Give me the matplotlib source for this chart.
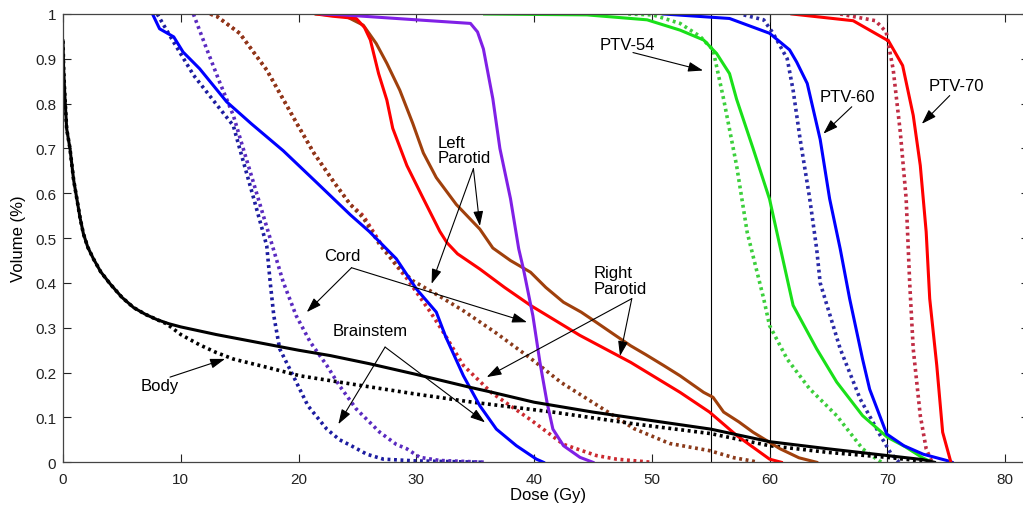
import matplotlib
matplotlib.use("Agg")
import matplotlib.pyplot as plt

plt.rcParams['font.family'] = ['Liberation Sans', 'DejaVu Sans']

# ---------------- data (Dose Gy, Volume fraction) ----------------
body_x = [0, 0.05, 0.15, 0.31, 0.59, 0.9, 1.16, 1.45, 1.73, 2.1, 2.58, 3.2, 4.0, 5.0, 6.0, 7.0, 8.0, 9.0, 10, 13, 17, 20, 22.7, 26, 30, 34.6, 36.3, 40, 45, 50, 55, 60, 65, 70, 73, 74]
body_y = [0.94, 0.88, 0.82, 0.744, 0.70, 0.63, 0.59, 0.545, 0.51, 0.48, 0.454, 0.425, 0.398, 0.368, 0.345, 0.33, 0.318, 0.309, 0.302, 0.285, 0.265, 0.25, 0.238, 0.22, 0.196, 0.167, 0.157, 0.134, 0.112, 0.093, 0.074, 0.046, 0.03, 0.015, 0.006, 0.0]
body2_x = [0, 0.05, 0.15, 0.31, 0.59, 0.9, 1.16, 1.45, 1.73, 2.1, 2.58, 3.2, 4.0, 5.0, 6.0, 7.0, 8.0, 8.8, 10.0, 11.6, 13.0, 14.5, 17.3, 20.1, 24.4, 30, 34.8, 41.6, 48.7, 55, 60, 65, 70, 72.5, 73.5]
body2_y = [0.94, 0.88, 0.82, 0.744, 0.70, 0.63, 0.59, 0.545, 0.51, 0.48, 0.454, 0.425, 0.398, 0.368, 0.345, 0.33, 0.318, 0.309, 0.285, 0.262, 0.245, 0.23, 0.212, 0.193, 0.175, 0.152, 0.134, 0.112, 0.085, 0.064, 0.037, 0.022, 0.011, 0.004, 0.0]

cord_x = [7.6, 8.2, 9.4, 10.2, 11.6, 13.9, 16, 18.7, 21.5, 24.4, 26, 28.3, 30, 31.7, 32.5, 34, 35.4, 36.8, 38.5, 40.2, 40.8]
cord_y = [1.0, 0.967, 0.949, 0.915, 0.878, 0.804, 0.755, 0.695, 0.625, 0.552, 0.515, 0.454, 0.387, 0.335, 0.28, 0.193, 0.126, 0.074, 0.037, 0.007, 0.0]
cord2_x = [8.0, 9.4, 11.1, 13.1, 14.46, 15.0, 16.2, 17.3, 17.6, 17.9, 18.4, 19.6, 20.8, 22.4, 23.5, 24.4, 25.8, 27.2, 30, 35.7]
cord2_y = [1.0, 0.937, 0.863, 0.796, 0.751, 0.70, 0.588, 0.483, 0.40, 0.327, 0.253, 0.19, 0.126, 0.074, 0.05, 0.038, 0.018, 0.007, 0.003, 0.0]

bstem_x = [22, 23.8, 30, 34.6, 35.2, 35.7, 36.5, 37.1, 38.0, 38.7, 39.1, 39.9, 40.5, 41.1, 41.6, 42.5, 43.9, 45.0]
bstem_y = [1.0, 0.998, 0.987, 0.979, 0.96, 0.922, 0.811, 0.70, 0.588, 0.476, 0.431, 0.327, 0.223, 0.134, 0.074, 0.037, 0.011, 0.0]
bstem2_x = [11.07, 12.2, 13.3, 14.46, 15.3, 16.16, 17.0, 17.86, 18.7, 19.8, 21.0, 22.4, 23.5, 24.9, 26.9, 28.3, 29.2, 30.3, 32, 36]
bstem2_y = [1.0, 0.922, 0.848, 0.774, 0.70, 0.625, 0.551, 0.476, 0.402, 0.327, 0.268, 0.216, 0.17, 0.119, 0.067, 0.04, 0.03, 0.011, 0.004, 0.0]

rpar_x = [21.5, 22.9, 24.9, 25.6, 26.1, 26.8, 27.5, 28.0, 29.2, 30.6, 32.0, 32.6, 33.5, 35.4, 37.5, 39.7, 43.9, 48.2, 52.4, 54.9, 57.2, 60.0, 61]
rpar_y = [1.0, 0.995, 0.99, 0.97, 0.942, 0.867, 0.808, 0.745, 0.662, 0.588, 0.515, 0.49, 0.465, 0.431, 0.39, 0.35, 0.283, 0.223, 0.156, 0.112, 0.06, 0.007, 0.0]
rpar2_x = [12.5, 13.05, 15.0, 17.3, 19.85, 21.3, 23.0, 24.4, 25.5, 26.9, 28.3, 29.2, 31.2, 32.3, 34.0, 36.4, 39.7, 42.5, 45.3, 47, 50]
rpar2_y = [1.0, 0.995, 0.957, 0.875, 0.756, 0.69, 0.625, 0.575, 0.55, 0.491, 0.439, 0.41, 0.335, 0.29, 0.216, 0.155, 0.095, 0.04, 0.015, 0.007, 0.0]

lpar_x = [21.5, 24, 25.5, 26.6, 27.5, 28.6, 29.7, 30.6, 31.7, 33.4, 35.4, 36.5, 38.0, 39.7, 41.0, 42.5, 44.0, 45.3, 46.8, 48.2, 49.5, 51.0, 52.4, 54.4, 55.2, 56.1, 57.4, 58.6, 60.9, 62.5, 64.0]
lpar_y = [1.0, 0.995, 0.975, 0.934, 0.89, 0.83, 0.756, 0.69, 0.635, 0.575, 0.52, 0.478, 0.45, 0.424, 0.39, 0.357, 0.335, 0.312, 0.285, 0.26, 0.24, 0.216, 0.193, 0.156, 0.145, 0.112, 0.09, 0.067, 0.03, 0.01, 0.0]
lpar2_x = [12.5, 13.05, 15.0, 17.3, 19.85, 21.3, 23.0, 24.4, 25.5, 26.9, 28.3, 29.7, 32.0, 34.0, 36.8, 39.7, 42.3, 45.5, 48.5, 51.5, 54.9, 57, 58.5, 59]
lpar2_y = [1.0, 0.995, 0.957, 0.875, 0.756, 0.69, 0.625, 0.575, 0.545, 0.485, 0.44, 0.405, 0.37, 0.338, 0.288, 0.232, 0.178, 0.125, 0.075, 0.042, 0.026, 0.01, 0.003, 0.0]

p54_x = [35.8, 44.5, 49.6, 52.4, 54.4, 55.5, 56.6, 57.2, 58.6, 60.0, 60.9, 62.0, 64.0, 65.7, 67.9, 70.0, 71.5, 73.0, 73.8]
p54_y = [1.0, 0.998, 0.987, 0.964, 0.942, 0.912, 0.867, 0.81, 0.70, 0.587, 0.48, 0.35, 0.253, 0.179, 0.104, 0.056, 0.035, 0.01, 0.0]
p54b_x = [48, 50.1, 52.4, 54.1, 55.2, 56.1, 57.2, 58.1, 59.5, 60.0, 61.5, 63.4, 65.7, 67.9, 69.1, 69.5]
p54b_y = [1.0, 0.998, 0.979, 0.95, 0.92, 0.81, 0.662, 0.513, 0.365, 0.305, 0.23, 0.164, 0.104, 0.03, 0.007, 0.0]

p60_x = [51, 56.6, 60.0, 61.7, 62.3, 63.2, 64.3, 65.1, 66.0, 66.8, 67.9, 68.5, 69.95, 71.4, 73.05, 75.05, 75.5]
p60_y = [1.0, 0.99, 0.957, 0.92, 0.893, 0.845, 0.72, 0.588, 0.476, 0.365, 0.23, 0.163, 0.063, 0.037, 0.018, 0.004, 0.0]
p60b_x = [57.8, 59.5, 60.3, 61.5, 62.0, 62.6, 63.4, 64.0, 64.3, 66.0, 67.7, 69.4, 70.3, 71]
p60b_y = [0.998, 0.987, 0.957, 0.90, 0.83, 0.72, 0.59, 0.476, 0.40, 0.253, 0.141, 0.06, 0.02, 0.0]

p70_x = [61.9, 67.1, 70.1, 71.3, 72.2, 72.8, 73.3, 73.6, 74.2, 74.7, 75.4]
p70_y = [1.0, 0.985, 0.94, 0.885, 0.774, 0.662, 0.514, 0.365, 0.216, 0.067, 0.0]
p70b_x = [66, 69.0, 69.9, 70.5, 71.1, 71.6, 71.9, 72.2, 72.8, 73.3, 73.8]
p70b_y = [1.0, 0.985, 0.96, 0.876, 0.737, 0.588, 0.40, 0.253, 0.104, 0.03, 0.0]

ref_doses = [55, 60, 70]
x_ticks = [0, 10, 20, 30, 40, 50, 60, 70, 80]
y_ticks = [0, 0.1, 0.2, 0.3, 0.4, 0.5, 0.6, 0.7, 0.8, 0.9, 1.0]
y_tick_labels = ['0', '0.1', '0.2', '0.3', '0.4', '0.5', '0.6', '0.7', '0.8', '0.9', '1']

# ---------------- figure ----------------
fig = plt.figure(figsize=(10.23, 5.10), dpi=100)
ax = fig.add_axes([0.0616, 0.0916, 0.9439, 0.879])

for d in ref_doses:
    ax.axvline(d, color='black', lw=0.8, zorder=1)

LW = 2.2
DLW = 2.6
dot = (0, (0.8, 1.0))

ax.plot(p54b_x, p54b_y, color='#3ccf3c', lw=DLW, ls=dot)
ax.plot(p60b_x, p60b_y, color='#2a2aa8', lw=DLW, ls=dot)
ax.plot(p70b_x, p70b_y, color='#c02c44', lw=DLW, ls=dot)
ax.plot(rpar2_x, rpar2_y, color='#cc2a30', lw=DLW, ls=dot)
ax.plot(lpar2_x, lpar2_y, color='#8b3a1a', lw=DLW, ls=dot)
ax.plot(cord2_x, cord2_y, color='#1c1ca0', lw=DLW, ls=dot)
ax.plot(bstem2_x, bstem2_y, color='#5a2ac0', lw=DLW, ls=dot)
ax.plot(body2_x, body2_y, color='black', lw=DLW, ls=dot)

ax.plot(p54_x, p54_y, color='#19e019', lw=LW)
ax.plot(p60_x, p60_y, color='#0000ff', lw=LW)
ax.plot(p70_x, p70_y, color='#ff0000', lw=LW)
ax.plot(lpar_x, lpar_y, color='#a0400c', lw=LW)
ax.plot(rpar_x, rpar_y, color='#ff0000', lw=LW)
ax.plot(bstem_x, bstem_y, color='#8020e6', lw=LW)
ax.plot(cord_x, cord_y, color='#0000ff', lw=LW)
ax.plot(body_x, body_y, color='black', lw=LW)

ax.set_xlim(0, 82)
ax.set_ylim(0, 1)
ax.set_xticks(x_ticks)
ax.set_yticks(y_ticks)
ax.set_yticklabels(y_tick_labels)
ax.tick_params(direction='in', length=6, width=0.8, top=True, right=True,
               labelsize=11, colors='#222222')
ax.tick_params(axis='x', pad=7)
ax.tick_params(axis='y', pad=5)
for s in ax.spines.values():
    s.set_color('#444444')
    s.set_linewidth(0.9)

ax.set_xlabel('Dose (Gy)', fontsize=12)
ax.set_ylabel('Volume (%)', fontsize=12)
ax.xaxis.set_label_coords(0.502, -0.056)
ax.yaxis.set_label_coords(-0.038, 0.5)

FS = 12
arrow = dict(arrowstyle='-|>,head_length=0.9,head_width=0.3', color='black',
             lw=0.8, shrinkA=0, shrinkB=0)

def arr(tail, head):
    ax.annotate('', xy=head, xytext=tail, arrowprops=arrow, annotation_clip=False)

ax.text(47.9, 0.933, 'PTV-54', fontsize=FS, ha='center', va='center')
arr((48.4, 0.914), (54.35, 0.874))
ax.text(66.6, 0.815, 'PTV-60', fontsize=FS, ha='center', va='center')
arr((66.98, 0.793), (64.57, 0.733))
ax.text(75.9, 0.84, 'PTV-70', fontsize=FS, ha='center', va='center')
arr((75.3, 0.818), (72.93, 0.755))

ax.text(31.85, 0.697, 'Left\nParotid', fontsize=FS, ha='left', va='center', linespacing=1.05)
arr((34.85, 0.655), (35.4, 0.527))
arr((34.85, 0.655), (31.3, 0.398))

ax.text(45.04, 0.405, 'Right\nParotid', fontsize=FS, ha='left', va='center', linespacing=1.05)
arr((48.3, 0.365), (47.3, 0.237))
arr((48.3, 0.365), (35.98, 0.19))

ax.text(23.7, 0.461, 'Cord', fontsize=FS, ha='center', va='center')
arr((24.5, 0.434), (20.7, 0.335))
arr((24.5, 0.434), (39.4, 0.3125))

ax.text(26.07, 0.294, 'Brainstem', fontsize=FS, ha='center', va='center')
arr((27.35, 0.257), (35.84, 0.089))
arr((27.35, 0.257), (23.38, 0.085))

ax.text(8.24, 0.171, 'Body', fontsize=FS, ha='center', va='center')
arr((9.09, 0.19), (13.76, 0.2306))

fig.savefig('out.png', dpi=100)
